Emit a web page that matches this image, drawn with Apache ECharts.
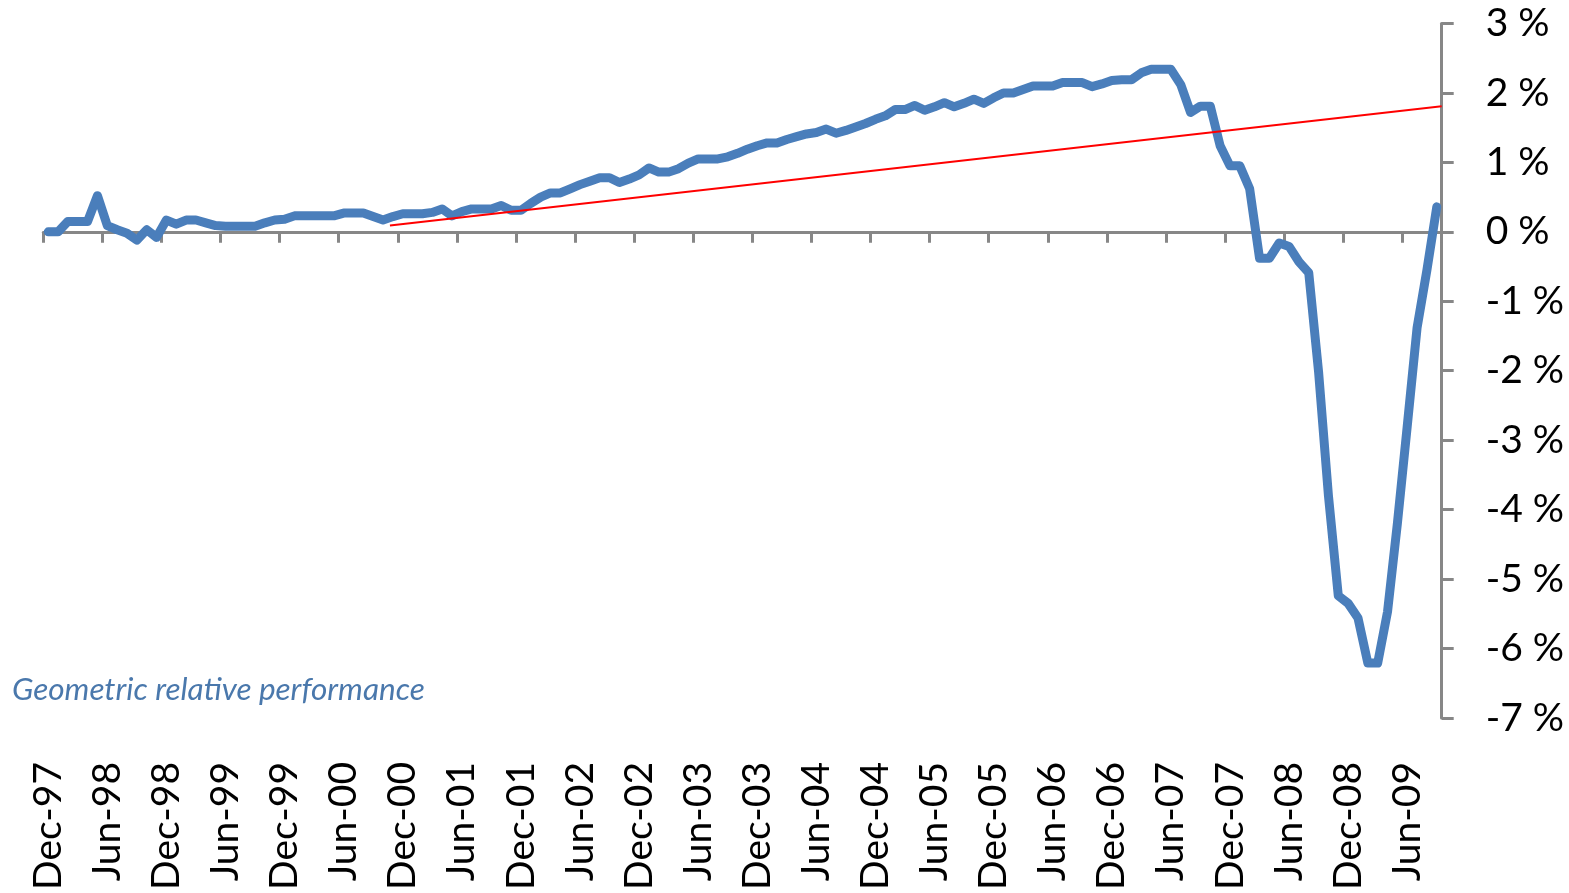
<!DOCTYPE html>
<html>
<head>
<meta charset="utf-8">
<script src="https://cdn.jsdelivr.net/npm/echarts@6/dist/echarts.min.js"></script>
<style>
html,body{margin:0;padding:0;background:#fff;}
#chart{width:1569px;height:893px;}
</style>
</head>
<body>
<div id="chart"></div>
<script>
var categories = ["Dec-97","Jan-98","Feb-98","Mar-98","Apr-98","May-98","Jun-98","Jul-98","Aug-98","Sep-98","Oct-98","Nov-98",
"Dec-98","Jan-99","Feb-99","Mar-99","Apr-99","May-99","Jun-99","Jul-99","Aug-99","Sep-99","Oct-99","Nov-99",
"Dec-99","Jan-00","Feb-00","Mar-00","Apr-00","May-00","Jun-00","Jul-00","Aug-00","Sep-00","Oct-00","Nov-00",
"Dec-00","Jan-01","Feb-01","Mar-01","Apr-01","May-01","Jun-01","Jul-01","Aug-01","Sep-01","Oct-01","Nov-01",
"Dec-01","Jan-02","Feb-02","Mar-02","Apr-02","May-02","Jun-02","Jul-02","Aug-02","Sep-02","Oct-02","Nov-02",
"Dec-02","Jan-03","Feb-03","Mar-03","Apr-03","May-03","Jun-03","Jul-03","Aug-03","Sep-03","Oct-03","Nov-03",
"Dec-03","Jan-04","Feb-04","Mar-04","Apr-04","May-04","Jun-04","Jul-04","Aug-04","Sep-04","Oct-04","Nov-04",
"Dec-04","Jan-05","Feb-05","Mar-05","Apr-05","May-05","Jun-05","Jul-05","Aug-05","Sep-05","Oct-05","Nov-05",
"Dec-05","Jan-06","Feb-06","Mar-06","Apr-06","May-06","Jun-06","Jul-06","Aug-06","Sep-06","Oct-06","Nov-06",
"Dec-06","Jan-07","Feb-07","Mar-07","Apr-07","May-07","Jun-07","Jul-07","Aug-07","Sep-07","Oct-07","Nov-07",
"Dec-07","Jan-08","Feb-08","Mar-08","Apr-08","May-08","Jun-08","Jul-08","Aug-08","Sep-08","Oct-08","Nov-08",
"Dec-08","Jan-09","Feb-09","Mar-09","Apr-09","May-09","Jun-09","Jul-09","Aug-09","Sep-09"];

var relativePerformance = [0.00,0.00,0.15,0.15,0.15,0.52,0.09,0.03,-0.02,-0.12,0.03,-0.08,
0.17,0.11,0.17,0.17,0.13,0.09,0.08,0.08,0.08,0.08,0.13,0.17,
0.18,0.23,0.23,0.23,0.23,0.23,0.27,0.27,0.27,0.22,0.17,0.22,
0.26,0.26,0.26,0.28,0.33,0.23,0.29,0.33,0.33,0.33,0.38,0.31,
0.31,0.41,0.50,0.56,0.56,0.62,0.68,0.73,0.78,0.78,0.71,0.76,
0.82,0.92,0.86,0.86,0.91,0.99,1.05,1.05,1.05,1.08,1.13,1.19,
1.24,1.28,1.28,1.33,1.37,1.41,1.43,1.48,1.42,1.46,1.51,1.56,
1.62,1.67,1.76,1.76,1.82,1.75,1.80,1.86,1.80,1.85,1.91,1.85,
1.93,2.00,2.00,2.05,2.10,2.10,2.10,2.15,2.15,2.15,2.09,2.13,
2.18,2.19,2.19,2.29,2.34,2.34,2.34,2.12,1.72,1.81,1.81,1.24,
0.95,0.95,0.62,-0.38,-0.38,-0.16,-0.21,-0.43,-0.59,-2.02,-3.80,-5.24,
-5.35,-5.56,-6.21,-6.21,-5.47,-4.20,-2.80,-1.38,-0.55,0.36];

// trend line end points: x in months from the start of the axis, y in %
var trendX = [35.2, 142];
var trendY = [0.09, 1.81];

var yTicks = [-7, -6, -5, -4, -3, -2, -1, 0, 1, 2, 3];
var annotation = "Geometric relative performance";

var FONT = "Lato, 'Open Sans', sans-serif";
var axisGray = "#878787";

var chart = echarts.init(document.getElementById('chart'), null, {renderer: 'canvas'});
var trendData = trendX.map(function (x, k) { return [x, trendY[k]]; });

chart.setOption({
  animation: false,
  backgroundColor: '#ffffff',
  grid: { left: 43.3, right: 127.3, top: 23.5, bottom: 169.5, containLabel: false },
  graphic: [{
    type: 'text', left: 12, top: 674,
    style: { text: annotation, fill: '#4A78AC', font: "italic 31.5px " + FONT }
  }],
  xAxis: [
    {
      type: 'category', data: categories, boundaryGap: true, position: 'bottom',
      axisLine: { onZero: true, lineStyle: { color: axisGray, width: 3 } },
      axisTick: { show: true, interval: 5, length: 11, inside: false, lineStyle: { color: axisGray, width: 3 } },
      axisLabel: { show: false },
      splitLine: { show: false }
    },
    {
      type: 'category', data: categories, boundaryGap: true, position: 'bottom',
      axisLine: { show: false, onZero: false },
      axisTick: { show: false },
      axisLabel: { show: true, interval: 5, rotate: 90, margin: 44, color: '#000', fontFamily: FONT, fontSize: 39 },
      splitLine: { show: false }
    },
    {
      type: 'value', min: 0, max: categories.length, show: false,
      axisLine: { onZero: false }, splitLine: { show: false }
    }
  ],
  yAxis: {
    type: 'value', position: 'right', min: yTicks[0], max: yTicks[yTicks.length - 1], interval: 1,
    axisLine: { show: true, onZero: false, lineStyle: { color: axisGray, width: 3 } },
    axisTick: { show: true, length: 12, inside: false, lineStyle: { color: axisGray, width: 3 } },
    axisLabel: { margin: 44, color: '#000', fontFamily: FONT, fontSize: 39, formatter: '{value} %' },
    splitLine: { show: false }
  },
  series: [
    {
      type: 'line', xAxisIndex: 0, data: relativePerformance, showSymbol: false, symbol: 'none',
      lineStyle: { color: '#4A7EBB', width: 9, join: 'round', cap: 'round' },
      z: 3
    },
    {
      type: 'line', xAxisIndex: 2, data: trendData, showSymbol: false, symbol: 'none',
      lineStyle: { color: '#FF0000', width: 2 },
      z: 4
    }
  ]
});
</script>
</body>
</html>
